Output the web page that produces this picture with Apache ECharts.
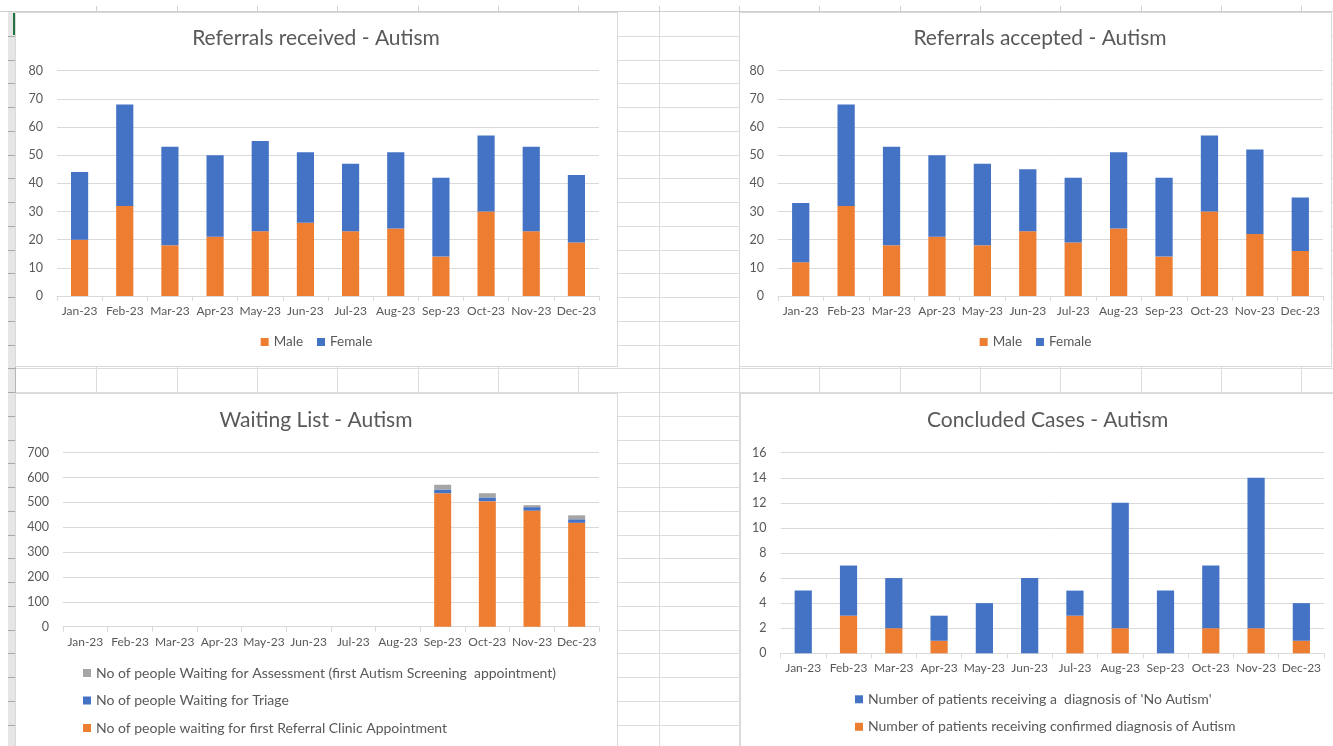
<!DOCTYPE html>
<html>
<head>
<meta charset="utf-8">
<title>Autism referrals dashboard</title>
<script src="https://cdn.jsdelivr.net/npm/echarts@6/dist/echarts.min.js"></script>
<style>
  html, body { margin: 0; padding: 0; }
  body { width: 1333px; height: 746px; position: relative; overflow: hidden; background: #fff; font-family: Lato, sans-serif; }
  #sheet { position: absolute; left: 0; top: 0; width: 1333px; height: 746px; }
  .hl, .vl, .tk { position: absolute; }
  .hl { height: 1px; background: #dcdcdc; }
  .vl { width: 1px; background: #dcdcdc; }
  #colhdr { position: absolute; left: 0; top: 11px; width: 1333px; height: 1px; background: #cfcfcf; }
  #rowhdr { position: absolute; left: 8px; top: 12px; width: 7px; height: 734px; background-color: #e6e6e6;
    border-right: 1px solid #b5b5b5; }
  #sel { position: absolute; left: 13px; top: 13px; width: 3px; height: 22px; background: #217346; }
  .box { position: absolute; background: #fff; border: 1px solid #d9d9d9; box-sizing: border-box; }
  .box > div { position: absolute; left: 0; top: 0; right: 0; bottom: 0; }
</style>
</head>
<body>
<div id="sheet"></div>
<div id="colhdr"></div>
<div id="rowhdr"></div>
<div id="sel"></div>

<div class="box" style="left:15px;top:12px;width:603px;height:355px;"><div id="c1"></div></div>
<div class="box" style="left:739px;top:12px;width:593px;height:355px;"><div id="c2"></div></div>
<div class="box" style="left:15px;top:393px;width:603px;height:360px;"><div id="c3"></div></div>
<div class="box" style="left:740px;top:393px;width:600px;height:360px;"><div id="c4"></div></div>

<script>
// Month categories shared by all four charts
const months = ['Jan-23', 'Feb-23', 'Mar-23', 'Apr-23', 'May-23', 'Jun-23',
                'Jul-23', 'Aug-23', 'Sep-23', 'Oct-23', 'Nov-23', 'Dec-23'];

// Referrals received
const receivedMale   = [20, 32, 18, 21, 23, 26, 23, 24, 14, 30, 23, 19];
const receivedFemale = [24, 36, 35, 29, 32, 25, 24, 27, 28, 27, 30, 24];

// Referrals accepted
const acceptedMale   = [12, 32, 18, 21, 18, 23, 19, 24, 14, 30, 22, 16];
const acceptedFemale = [21, 36, 35, 29, 29, 22, 23, 27, 28, 27, 30, 19];

// Waiting list (recorded from September onwards)
const waitClinic     = [null, null, null, null, null, null, null, null, 537, 505, 467, 418];
const waitTriage     = [null, null, null, null, null, null, null, null, 15, 15, 14, 14];
const waitAssessment = [null, null, null, null, null, null, null, null, 19, 17, 8, 16];

// Concluded cases
const concludedAutism   = [0, 3, 2, 1, 0, 0, 3, 2, 0, 2, 2, 1];
const concludedNoAutism = [5, 4, 4, 2, 4, 6, 2, 10, 5, 5, 12, 3];

// Series names
const nameMale = 'Male';
const nameFemale = 'Female';
const nameAssess = 'No of people Waiting for Assessment (first Autism Screening  appointment)';
const nameTriage = 'No of people Waiting for Triage';
const nameClinic = 'No of people waiting for first Referral Clinic Appointment';
const nameNoAutism = "Number of patients receiving a  diagnosis of 'No Autism'";
const nameAutism = 'Number of patients receiving confirmed diagnosis of Autism';

// Worksheet cell grid behind the charts
(function drawSheet() {
  const sheet = document.getElementById('sheet');
  const rowH = 23.75, colW = 80.33;
  for (let k = 1; 12 + k * rowH < 746; k++) {
    const y = Math.round(12 + k * rowH);
    const line = document.createElement('div');
    line.className = 'hl';
    line.style.cssText = `left:16px;top:${y}px;width:1317px;`;
    sheet.appendChild(line);
    const tick = document.createElement('div');
    tick.className = 'tk';
    tick.style.cssText = `left:8px;top:${y}px;width:7px;height:1px;background:#a9a9a9;z-index:2;`;
    document.body.appendChild(tick);
  }
  for (let k = 1; 16 + k * colW < 1333; k++) {
    const x = Math.round(16 + k * colW);
    const line = document.createElement('div');
    line.className = 'vl';
    line.style.cssText = `left:${x}px;top:12px;height:734px;`;
    sheet.appendChild(line);
    const tick = document.createElement('div');
    tick.className = 'tk';
    tick.style.cssText = `left:${x}px;top:6px;width:1px;height:6px;background:#d0d0d0;`;
    sheet.appendChild(tick);
  }
})();

const ORANGE = '#ED7D31', BLUE = '#4472C4', GREY = '#A5A5A5';
const TEXT = '#595959', LINE = '#d9d9d9', FONT = 'Lato, sans-serif';

function bar(name, data, color, stack) {
  return { name, type: 'bar', stack, data, barWidth: '38%',
           itemStyle: { color }, emphasis: { disabled: true } };
}

function buildOption(cfg) {
  return {
    animation: false,
    textStyle: { fontFamily: FONT },
    title: {
      text: cfg.title, left: cfg.titleX, top: cfg.titleY - 13, textAlign: 'center', padding: 0,
      textStyle: { fontFamily: FONT, fontSize: 21, fontWeight: 'normal', color: TEXT, lineHeight: 26 }
    },
    legend: Object.assign({
      icon: 'rect', itemWidth: 8, itemHeight: 8, padding: 0, selectedMode: false
    }, cfg.legend),
    grid: Object.assign({ containLabel: false }, cfg.grid),
    xAxis: {
      type: 'category', data: months,
      axisLine: { lineStyle: { color: LINE } },
      axisTick: { show: true, length: 5, lineStyle: { color: LINE } },
      axisLabel: { color: TEXT, fontSize: 12, fontFamily: FONT, margin: 9, interval: 0 }
    },
    yAxis: {
      type: 'value', min: 0, max: cfg.yMax, interval: cfg.yInterval,
      axisLine: { show: false }, axisTick: { show: false },
      axisLabel: { color: TEXT, fontSize: 12.5, fontFamily: FONT, margin: 14 },
      splitLine: { lineStyle: { color: LINE } }
    },
    series: cfg.series
  };
}

const hLegendText = { fontFamily: FONT, fontSize: 13.5, color: TEXT, lineHeight: 16 };
const vLegendText = { fontFamily: FONT, fontSize: 14, color: TEXT, lineHeight: 16 };

const charts = [
  ['c1', {
    title: 'Referrals received - Autism', titleX: 300, titleY: 25,
    grid: { left: 41, right: 18, top: 57.7, bottom: 70 },
    legend: { left: 'center', top: 321, itemGap: 14, textStyle: hLegendText, data: [nameMale, nameFemale] },
    yMax: 80, yInterval: 10,
    series: [bar(nameMale, receivedMale, ORANGE, 'r'), bar(nameFemale, receivedFemale, BLUE, 'r')]
  }],
  ['c2', {
    title: 'Referrals accepted - Autism', titleX: 300, titleY: 25,
    grid: { left: 38, right: 8, top: 57.7, bottom: 70 },
    legend: { left: 'center', top: 321, itemGap: 14, textStyle: hLegendText, data: [nameMale, nameFemale] },
    yMax: 80, yInterval: 10,
    series: [bar(nameMale, acceptedMale, ORANGE, 'a'), bar(nameFemale, acceptedFemale, BLUE, 'a')]
  }],
  ['c3', {
    title: 'Waiting List - Autism', titleX: 300, titleY: 26.7,
    grid: { left: 47, right: 18, top: 58.7, bottom: 125.3 },
    legend: { orient: 'vertical', left: 67, top: 271, itemGap: 11.5, textStyle: vLegendText,
              data: [nameAssess, nameTriage, nameClinic] },
    yMax: 700, yInterval: 100,
    series: [bar(nameClinic, waitClinic, ORANGE, 'w'), bar(nameTriage, waitTriage, BLUE, 'w'),
             bar(nameAssess, waitAssessment, GREY, 'w')]
  }],
  ['c4', {
    title: 'Concluded Cases - Autism', titleX: 306.6, titleY: 26.7,
    grid: { left: 39.6, right: 15, top: 58.7, bottom: 98.7 },
    legend: { orient: 'vertical', left: 114, top: 297.3, itemGap: 11.5, textStyle: vLegendText,
              data: [nameNoAutism, nameAutism] },
    yMax: 16, yInterval: 2,
    series: [bar(nameAutism, concludedAutism, ORANGE, 'c'), bar(nameNoAutism, concludedNoAutism, BLUE, 'c')]
  }]
];

charts.forEach(([id, cfg]) => {
  const chart = echarts.init(document.getElementById(id), null, { renderer: 'canvas' });
  chart.setOption(buildOption(cfg));
});
</script>
</body>
</html>
